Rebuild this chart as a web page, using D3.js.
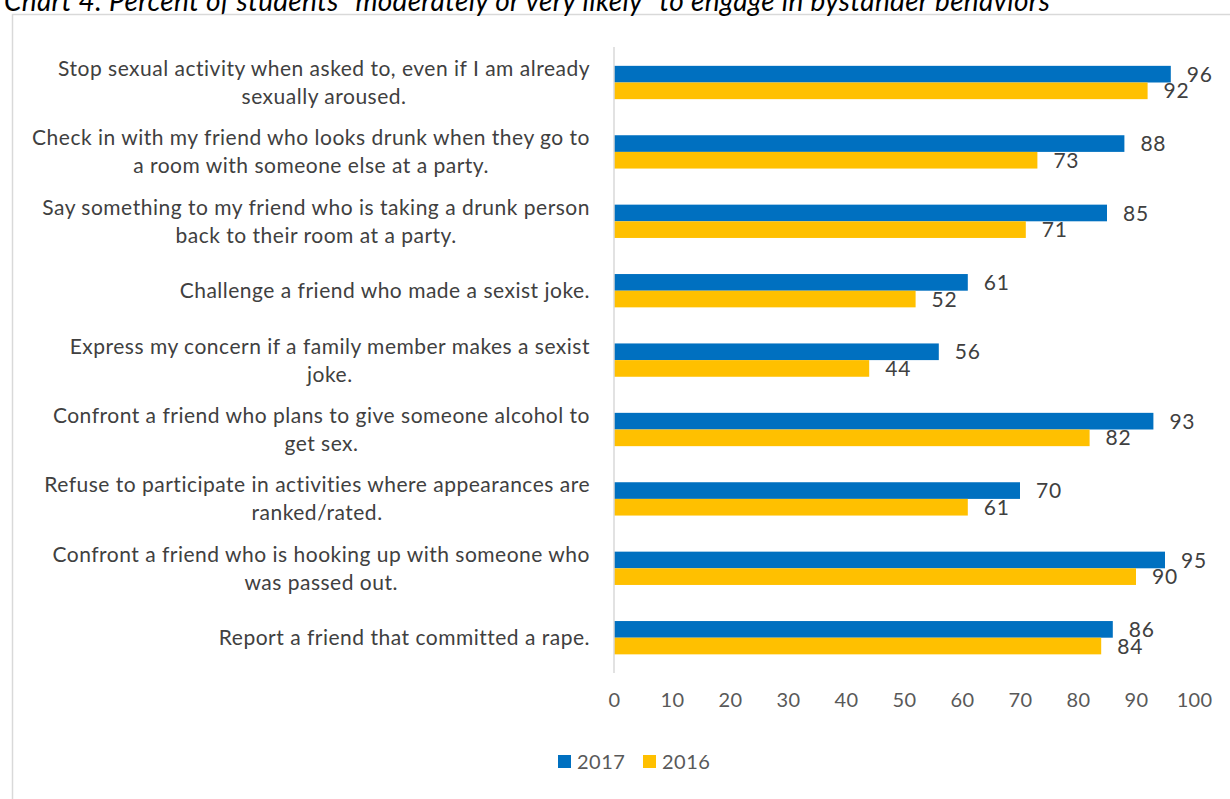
<!DOCTYPE html>
<html><head><meta charset="utf-8">
<script src="https://cdn.jsdelivr.net/npm/d3@7"></script>
<style>body{margin:0;background:#fff;overflow:hidden}svg{display:block}</style>
</head><body>
<svg id="c" width="1230" height="799"></svg>
<script>
const categories = [
  ["Stop sexual activity when asked to, even if I am already", "sexually aroused."],
  ["Check in with my friend who looks drunk when they go to", "a room with someone else at a party."],
  ["Say something to my friend who is taking a drunk person", "back to their room at a party."],
  ["Challenge a friend who made a sexist joke."],
  ["Express my concern if a family member makes a sexist", "joke."],
  ["Confront a friend who plans to give someone alcohol to", "get sex."],
  ["Refuse to participate in activities where appearances are", "ranked/rated."],
  ["Confront a friend who is hooking up with someone who", "was passed out."],
  ["Report a friend that committed a rape."]
];
const values2017 = [96, 88, 85, 61, 56, 93, 70, 95, 86];
const values2016 = [92, 73, 71, 52, 44, 82, 61, 90, 84];
const seriesNames = ["2017", "2016"];
const xTicks = [0, 10, 20, 30, 40, 50, 60, 70, 80, 90, 100];
const title = "Chart 4: Percent of students \u201cmoderately or very likely\u201d to engage in bystander behaviors";

const colors = ["#0070C0", "#FFC000"];
const font = "Lato, 'Open Sans', sans-serif";
const svg = d3.select("#c");

// border
svg.append("rect").attr("x", 12.5).attr("y", 14.5).attr("width", 1240).attr("height", 800)
  .attr("fill", "none").attr("stroke", "#d9d9d9").attr("stroke-width", 1.5);

svg.append("text").attr("x", 4).attr("y", 11).attr("font-family", font).attr("font-style", "italic")
  .attr("font-size", 28).attr("letter-spacing", 0.3).attr("fill", "#000").text(title);

const x = d3.scaleLinear().domain([0, 100]).range([614, 1194]);
const y = d3.scaleBand().domain(d3.range(categories.length)).range([47.8, 672.4]).paddingInner(0.52).paddingOuter(0.26);
const sub = d3.scaleBand().domain([0, 1]).range([0, y.bandwidth()]);

const rows = categories.map((c, i) => ({i, c, v: [values2017[i], values2016[i]]}));
const g = svg.append("g");
rows.forEach(r => {
  r.v.forEach((v, k) => {
    g.append("rect").attr("x", x(0)).attr("y", y(r.i) + sub(k)).attr("width", x(v) - x(0))
      .attr("height", sub.bandwidth()).attr("fill", colors[k]);
    g.append("text").attr("x", x(v) + 16).attr("y", y(r.i) + sub(k) + sub.bandwidth() / 2)
      .attr("dy", "0.36em").attr("font-family", font).attr("font-size", 21).attr("letter-spacing", 0.8)
      .attr("fill", "#404040").text(v);
  });
});

// axis line (vertical)
svg.append("line").attr("x1", x(0)).attr("x2", x(0)).attr("y1", 47).attr("y2", 673)
  .attr("stroke", "#d9d9d9").attr("stroke-width", 1.5);

// category labels
const lineH = 28;
rows.forEach(r => {
  const cy = y(r.i) + y.bandwidth() / 2;
  const t = svg.append("text").attr("font-family", font).attr("font-size", 21).attr("letter-spacing", 0.5)
    .attr("fill", "#404040").attr("text-anchor", "middle");
  const n = r.c.length;
  r.c.forEach((line, j) => {
    t.append("tspan").attr("x", 0).attr("y", cy + (j - (n - 1) / 2) * lineH).attr("dy", "0.36em").text(line);
  });
  let maxW = 0;
  t.selectAll("tspan").each(function(){ maxW = Math.max(maxW, this.getComputedTextLength()); });
  t.selectAll("tspan").attr("x", 590 - maxW / 2);
});

// x axis
const xAxis = svg.append("g").attr("transform", "translate(0,672)")
  .call(d3.axisBottom(x).tickValues(xTicks).tickSize(0).tickPadding(21));
xAxis.select(".domain").remove();
xAxis.selectAll("text").attr("font-family", font).attr("font-size", 20).attr("letter-spacing", 0.3).attr("fill", "#595959");

// legend
const legend = svg.append("g").attr("transform", "translate(558,755)");
seriesNames.forEach((s, k) => {
  const lg = legend.append("g").attr("transform", `translate(${k * 85},0)`);
  lg.append("rect").attr("width", 13).attr("height", 13).attr("fill", colors[k]);
  lg.append("text").attr("x", 19).attr("y", 6.5).attr("dy", "0.36em").attr("font-family", font)
    .attr("font-size", 20).attr("letter-spacing", 0.5).attr("fill", "#595959").text(s);
});
</script>
</body></html>
